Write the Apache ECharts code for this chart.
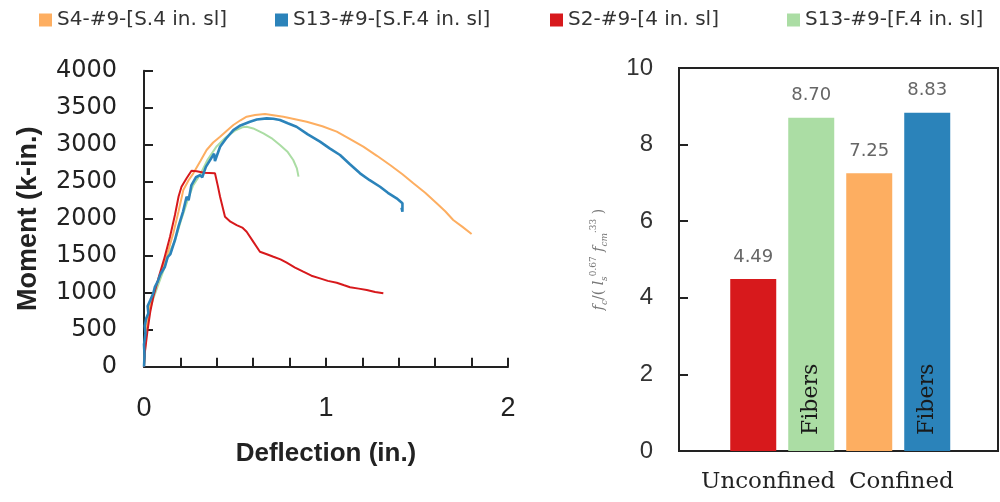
<!DOCTYPE html>
<html>
<head>
<meta charset="utf-8">
<script src="https://cdn.jsdelivr.net/npm/echarts@6/dist/echarts.min.js"></script>
<style>html,body{margin:0;padding:0;background:#fff;}#c{width:1000px;height:502px;}</style>
</head>
<body>
<div id="c"></div>
<script>
// ---- Data ----
const seriesNames = ['S4-#9-[S.4 in. sl]', 'S13-#9-[S.F.4 in. sl]', 'S2-#9-[4 in. sl]', 'S13-#9-[F.4 in. sl]'];
const seriesColors = ['#fdae61', '#2b83ba', '#d7191c', '#abdda4'];

// [deflection (in.), moment (k-in.)]
const s4 = [[0,0],[0.005,200],[0.015,540],[0.03,800],[0.051,992],[0.08,1180],[0.106,1351],[0.135,1580],[0.161,1803],[0.19,2100],[0.216,2388],[0.245,2520],[0.271,2613],[0.31,2780],[0.344,2928],[0.38,3030],[0.418,3108],[0.455,3190],[0.491,3266],[0.53,3330],[0.564,3378],[0.61,3400],[0.665,3414],[0.72,3395],[0.766,3378],[0.83,3345],[0.894,3311],[0.98,3250],[1.059,3176],[1.13,3080],[1.205,2973],[1.28,2850],[1.352,2726],[1.42,2600],[1.48,2478],[1.545,2350],[1.608,2208],[1.655,2100],[1.699,1982],[1.75,1890],[1.8,1793]];
const s13sf = [[0,0],[0.003,150],[0.0,300],[0.008,450],[0.004,550],[0.012,650],[0.024,721],[0.02,820],[0.035,900],[0.051,992],[0.06,1080],[0.075,1150],[0.09,1250],[0.1,1230],[0.115,1351],[0.13,1480],[0.145,1520],[0.17,1712],[0.19,1900],[0.2,1880],[0.215,2100],[0.234,2297],[0.245,2250],[0.26,2450],[0.285,2560],[0.308,2590],[0.32,2560],[0.34,2700],[0.37,2820],[0.385,2880],[0.39,2780],[0.418,2973],[0.45,3080],[0.491,3198],[0.53,3260],[0.582,3311],[0.62,3340],[0.674,3356],[0.71,3350],[0.747,3333],[0.79,3290],[0.838,3243],[0.9,3140],[0.967,3041],[1.02,2950],[1.077,2861],[1.13,2740],[1.187,2613],[1.24,2520],[1.297,2432],[1.34,2350],[1.388,2275],[1.42,2208],[1.42,2095],[1.415,2150]];
const s2 = [[0,0],[0.005,200],[0.02,500],[0.035,750],[0.051,946],[0.08,1200],[0.11,1450],[0.143,1757],[0.17,2050],[0.19,2300],[0.206,2432],[0.234,2546],[0.261,2649],[0.29,2640],[0.33,2620],[0.39,2613],[0.405,2450],[0.418,2297],[0.445,2027],[0.475,1960],[0.509,1914],[0.54,1880],[0.564,1824],[0.6,1690],[0.637,1554],[0.675,1520],[0.711,1486],[0.75,1450],[0.784,1405],[0.83,1340],[0.875,1284],[0.92,1230],[0.967,1194],[1.01,1160],[1.059,1135],[1.1,1100],[1.132,1073],[1.18,1055],[1.224,1036],[1.27,1010],[1.315,992]];
const s13f = [[0,0],[0.005,250],[0.015,500],[0.03,750],[0.051,920],[0.08,1120],[0.11,1320],[0.14,1550],[0.17,1700],[0.2,1950],[0.24,2250],[0.27,2450],[0.31,2600],[0.35,2800],[0.4,2980],[0.45,3100],[0.5,3190],[0.54,3235],[0.564,3243],[0.6,3220],[0.656,3153],[0.7,3090],[0.747,2996],[0.79,2900],[0.82,2793],[0.84,2680],[0.849,2568]];

// Bar chart
const barValues = [4.49, 8.70, 7.25, 8.83];
const barColors = ['#d7191c', '#abdda4', '#fdae61', '#2b83ba'];
const barInnerText = ['', 'Fibers', '', 'Fibers'];
const groupLabels = ['Unconfined', 'Confined'];

// ---- Chart ----
const chart = echarts.init(document.getElementById('c'), null, {renderer: 'canvas'});
const axisCol = '#222';
const lineData = [s4, s13sf, s2, s13f];
const drawOrder = [3, 0, 2, 1];

const legendLefts = [39, 275, 550, 787];
const legends = seriesNames.map((n, i) => ({
  data: [n], left: legendLefts[i], top: 10, padding: 0,
  icon: 'rect', itemWidth: 13, itemHeight: 13, itemGap: 5,
  textStyle: {fontFamily: 'DejaVu Sans', fontSize: 20, color: '#333'}
}));

const lineSeries = drawOrder.map(i => ({
  name: seriesNames[i], type: 'line', xAxisIndex: 0, yAxisIndex: 0,
  data: lineData[i], showSymbol: false, symbol: 'none',
  lineStyle: {color: seriesColors[i], width: i === 1 ? 2.6 : 2},
  itemStyle: {color: seriesColors[i]}, z: 2
}));

const barPos = barValues.map((v, i) => [i + 1.28, v]);

chart.setOption({
  animation: false,
  legend: legends,
  grid: [
    {left: 144, right: 492, top: 70.7, bottom: 135.3},
    {left: 679, right: 2, top: 68, bottom: 51, show: true, borderColor: axisCol, borderWidth: 2}
  ],
  xAxis: [
    {gridIndex: 0, type: 'value', min: 0, max: 2, interval: 0.2,
     axisLine: {lineStyle: {color: axisCol, width: 2}},
     axisTick: {inside: true, length: 9, lineStyle: {color: axisCol, width: 2}},
     splitLine: {show: false},
     axisLabel: {margin: 28, fontFamily: 'Liberation Sans', fontSize: 27, color: '#222',
       formatter: v => Math.abs(v - Math.round(v)) < 1e-6 ? String(Math.round(v)) : ''},
     name: 'Deflection (in.)', nameLocation: 'middle', nameGap: 74,
     nameTextStyle: {fontFamily: 'Liberation Sans', fontWeight: 'bold', fontSize: 26, color: '#222'}
    },
    {gridIndex: 1, type: 'value', min: 0, max: 5.5, show: false}
  ],
  yAxis: [
    {gridIndex: 0, type: 'value', min: 0, max: 4000, interval: 500,
     axisLine: {show: true, lineStyle: {color: axisCol, width: 2}},
     axisTick: {show: true, inside: true, length: 9, lineStyle: {color: axisCol, width: 2}},
     splitLine: {show: false},
     axisLabel: {margin: 27, fontFamily: 'DejaVu Sans', fontSize: 24, color: '#222', formatter: v => String(v)},
     name: 'Moment (k-in.)', nameLocation: 'middle', nameGap: 102, nameRotate: 90,
     nameTextStyle: {fontFamily: 'Liberation Sans', fontWeight: 'bold', fontSize: 27, color: '#222'}
    },
    {gridIndex: 1, type: 'value', min: 0, max: 10, interval: 2,
     axisLine: {show: true, lineStyle: {color: axisCol, width: 2}},
     axisTick: {show: true, inside: true, length: 9, lineStyle: {color: axisCol, width: 2}},
     splitLine: {show: false},
     axisLabel: {margin: 26, fontFamily: 'Liberation Sans', fontSize: 24, color: '#333'},
     name: '{i|f}{b|c}{n|/( }{i|l}{b|s}{t|0.67}{i| f}{b|cm}{t|.33}{n| )}',
     nameLocation: 'middle', nameGap: 70, nameRotate: 90,
     nameTextStyle: {color: '#777', fontSize: 14,
       rich: {
         i: {fontFamily: 'DejaVu Serif', fontStyle: 'italic', fontSize: 14, color: '#777', lineHeight: 20},
         n: {fontFamily: 'DejaVu Serif', fontSize: 14, color: '#777', lineHeight: 20},
         b: {fontFamily: 'DejaVu Serif', fontStyle: 'italic', fontSize: 9, color: '#777', verticalAlign: 'bottom', lineHeight: 20, padding: [7,0,0,0]},
         t: {fontFamily: 'DejaVu Serif', fontSize: 9, color: '#777', verticalAlign: 'top', lineHeight: 20, padding: [0,0,7,0]}
       }}
    }
  ],
  graphic: [
    {type: 'text', left: 701, top: 471, style: {text: groupLabels[0], font: '23px "DejaVu Serif"', fill: '#222'}},
    {type: 'text', left: 849, top: 471, style: {text: groupLabels[1], font: '23px "DejaVu Serif"', fill: '#222'}}
  ],
  series: lineSeries.concat([
    {type: 'bar', xAxisIndex: 1, yAxisIndex: 1, barWidth: 46, barGap: '-100%',
     data: barPos.map((p, i) => ({value: p, itemStyle: {color: barColors[i]}})),
     label: {show: true, position: 'top', distance: 13, fontFamily: 'DejaVu Sans', fontSize: 18, color: '#666',
       formatter: p => p.value[1].toFixed(2)}
    },
    {type: 'bar', xAxisIndex: 1, yAxisIndex: 1, barWidth: 46, barGap: '-100%',
     data: barPos.map((p, i) => ({value: p, itemStyle: {color: 'rgba(0,0,0,0)'}})),
     label: {show: true, position: 'insideBottom', rotate: 90, align: 'left', verticalAlign: 'middle', distance: 16,
       fontFamily: 'DejaVu Serif', fontSize: 22, color: '#1a1a1a',
       formatter: p => barInnerText[p.dataIndex]}
    }
  ])
});
</script>
</body>
</html>
